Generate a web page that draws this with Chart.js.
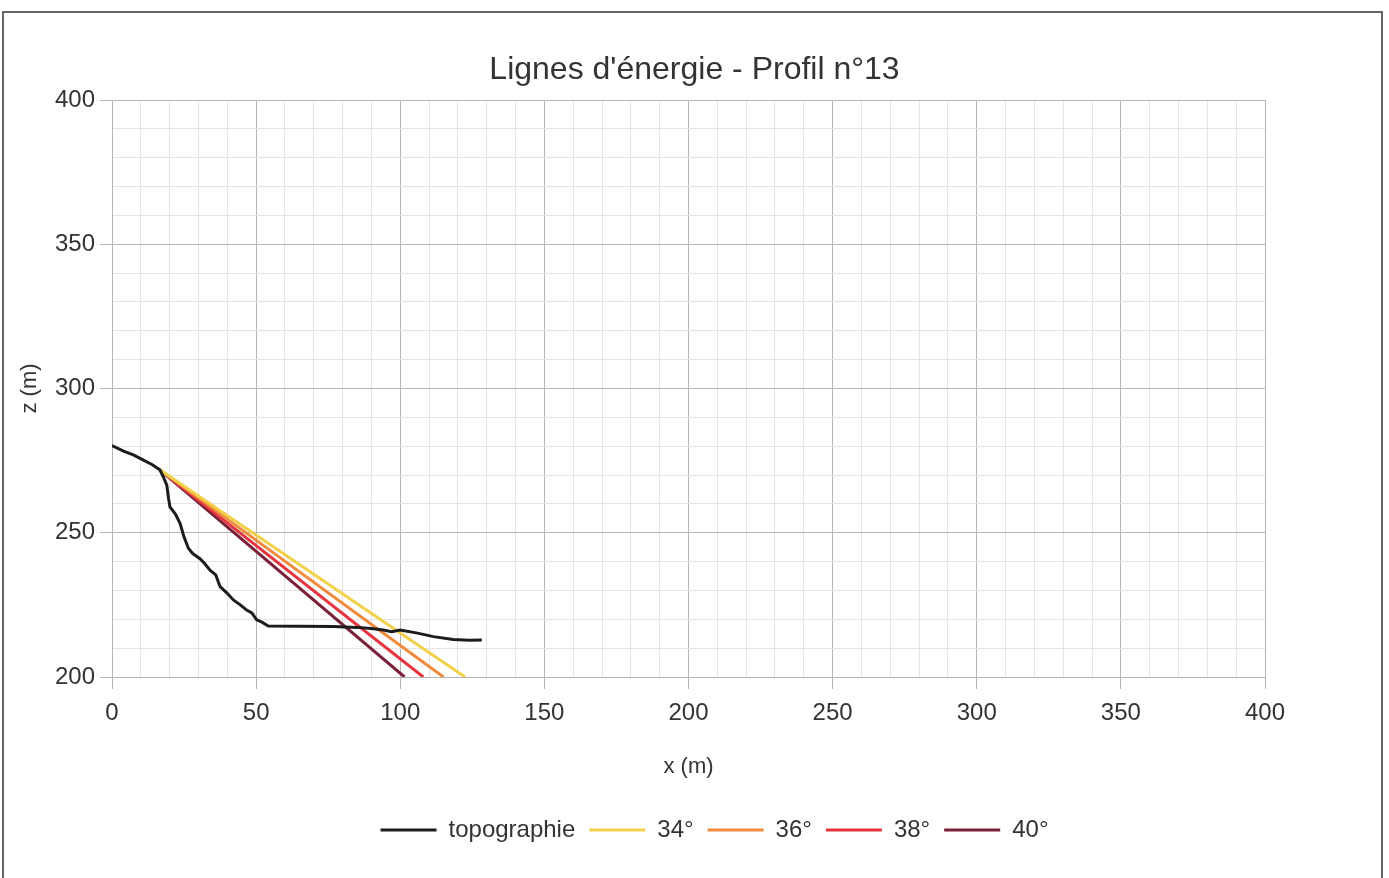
<!DOCTYPE html>
<html lang="fr">
<head>
<meta charset="utf-8">
<title>Lignes d'énergie - Profil n°13</title>
<script src="https://cdn.jsdelivr.net/npm/chart.js@4/dist/chart.umd.min.js"></script>
<style>
  html, body { margin: 0; padding: 0; background: #fff; }
  #wrap { position: relative; width: 1389px; height: 878px; overflow: hidden; }
  /* cadre du document scanné */
  #frame { position: absolute; left: 2px; top: 11px; width: 1377px; height: 900px;
           border: 2px solid #666; border-bottom: none; }
  #chart { position: absolute; left: 0; top: 0; }
</style>
</head>
<body>
<div id="wrap">
  <div id="frame"></div>
  <canvas id="chart" width="1389" height="878"></canvas>
</div>
<script>
'use strict';

const topoX = [0, 4, 7.4, 10.9, 14, 16.6, 17.8, 19, 19.6, 20.1, 22, 23.6, 25, 26.5, 28, 30.5, 32, 34, 36, 37.5, 40, 42.1, 44.5, 46.7, 48.5, 50.2, 52, 54.2, 65, 76.8, 85, 90, 94.1, 97, 100, 106, 111.5, 118.4, 124, 128.3];
const topoZ = [280.2, 278.3, 277, 275.2, 273.6, 271.8, 269.4, 266.5, 262, 259, 256.5, 253.3, 248.5, 244.6, 242.8, 241, 239.5, 237, 235.4, 231.3, 229, 226.7, 225, 223.2, 222.2, 219.8, 219, 217.7, 217.6, 217.5, 217.2, 216.8, 216.3, 215.7, 216.3, 215.2, 214, 213, 212.7, 212.8];

// lignes d'énergie : départ commun, arrivée à z = 200
const energyLabels = ['34°', '36°', '38°', '40°'];
const energyColors = ['#f3d04a', '#f08a3c', '#e6343f', '#7a2039'];
const energyStartX = [16.6, 16.6, 16.6, 16.6];
const energyStartZ = [271.8, 271.8, 271.8, 271.8];
const energyEndX = [122.5, 115, 108, 101.5];
const energyEndZ = [200, 200, 200, 200];

const xTicks = [0, 50, 100, 150, 200, 250, 300, 350, 400];
const zTicks = [200, 250, 300, 350, 400];

const FONT = 'Liberation Sans, Arial, sans-serif';
const TXT = '#333';
const GRID_MAJOR = '#b5b5b5';
const GRID_MINOR = '#e4e4e4';

const datasets = [{
  label: 'topographie',
  data: topoX.map((x, i) => ({ x: x, y: topoZ[i] })),
  borderColor: '#1c1c1c',
  backgroundColor: '#1c1c1c',
  borderWidth: 3,
}];
energyLabels.forEach((lab, i) => {
  datasets.push({
    label: lab,
    data: [{ x: energyStartX[i], y: energyStartZ[i] }, { x: energyEndX[i], y: energyEndZ[i] }],
    borderColor: energyColors[i],
    backgroundColor: energyColors[i],
    borderWidth: 3,
  });
});

// grille : traits forts tous les 50 m, fins tous les 10 m
const isMajor = ctx => ctx.tick && xTicks.concat(zTicks).includes(ctx.tick.value);
const gridColor = ctx => (isMajor(ctx) ? GRID_MAJOR : GRID_MINOR);
const tickMarkColor = ctx => (isMajor(ctx) ? GRID_MAJOR : 'rgba(0,0,0,0)');

// recentre titre et légende comme sur l'original (centrés sur la page)
const boxShift = {
  id: 'boxShift',
  afterLayout(chart) {
    const t = chart.titleBlock;
    if (t) { t.left += 62; t.right += 62; }
    const lg = chart.legend;
    if (lg) { lg.left += 82; lg.right += 82; }
  },
};

new Chart(document.getElementById('chart'), {
  type: 'scatter',
  data: { datasets: datasets },
  plugins: [boxShift],
  options: {
    responsive: false,
    animation: false,
    showLine: true,
    layout: { padding: { top: 0, left: 0, right: 124, bottom: 26 } },
    elements: { point: { radius: 0, hoverRadius: 0 }, line: { tension: 0 } },
    plugins: {
      title: {
        display: true,
        text: "Lignes d'énergie - Profil n°13",
        color: TXT,
        font: { family: FONT, size: 32, weight: 'normal' },
        padding: { top: 50.8, bottom: 10.8 },
      },
      legend: {
        position: 'bottom',
        labels: {
          color: TXT,
          font: { family: FONT, size: 24 },
          boxWidth: 56,
          boxHeight: 3,
          padding: 14,
          generateLabels(chart) {
            return Chart.defaults.plugins.legend.labels.generateLabels(chart).map(l => {
              l.fillStyle = l.strokeStyle;
              l.lineWidth = 0;
              return l;
            });
          },
        },
      },
      tooltip: { enabled: false },
    },
    scales: {
      x: {
        type: 'linear',
        min: 0,
        max: 400,
        afterFit(scale) { scale.height = 127; },
        ticks: {
          stepSize: 10,
          autoSkip: false,
          maxRotation: 0,
          padding: 10,
          color: TXT,
          font: { family: FONT, size: 24 },
          callback: v => (xTicks.includes(v) ? v : ''),
        },
        grid: { color: gridColor, tickColor: tickMarkColor, tickLength: 12, lineWidth: 1 },
        border: { color: GRID_MAJOR },
        title: {
          display: true,
          text: 'x (m)',
          color: TXT,
          font: { family: FONT, size: 22 },
          padding: { top: 0, bottom: 23.8 },
        },
      },
      y: {
        type: 'linear',
        min: 200,
        max: 400,
        afterFit(scale) { scale.width = 112; },
        ticks: {
          stepSize: 10,
          autoSkip: false,
          padding: 5,
          color: TXT,
          font: { family: FONT, size: 24 },
          callback: v => (zTicks.includes(v) ? v : ''),
        },
        grid: { color: gridColor, tickColor: tickMarkColor, tickLength: 12, lineWidth: 1 },
        border: { color: GRID_MAJOR },
        title: {
          display: true,
          text: 'z (m)',
          color: TXT,
          font: { family: FONT, size: 22 },
          padding: { top: 16.8, bottom: 0 },
        },
      },
    },
  },
});
</script>
</body>
</html>
